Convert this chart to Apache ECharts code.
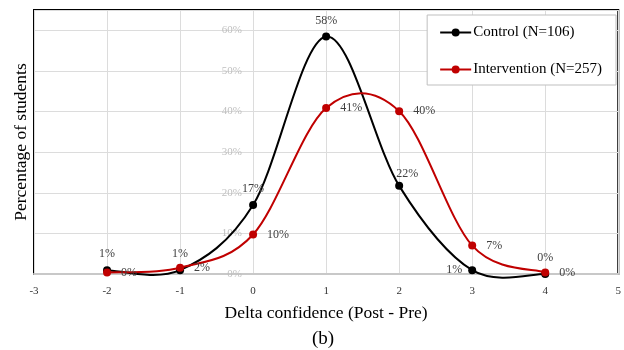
<!DOCTYPE html>
<html>
<head>
<meta charset="utf-8">
<script src="https://cdn.jsdelivr.net/npm/echarts@6/dist/echarts.min.js"></script>
<style>
  html, body {margin: 0; padding: 0; background: #fff;}
  #main {width: 624px; height: 350px;}
</style>
</head>
<body>
<div id="main"></div>
<script>
  // delta confidence (post - pre) and share of students, in percent
  const deltas = [-2, -1, 0, 1, 2, 3, 4];
  const control = [0.94, 0.94, 16.98, 58.49, 21.70, 0.94, 0];
  const intervention = [0.39, 1.56, 9.73, 40.86, 40.08, 7.0, 0.39];
  const controlName = 'Control (N=106)';
  const interventionName = 'Intervention (N=257)';

  // where each point's label sits
  const controlLabelPos = ['top', 'top', 'top', 'top', 'top', 'left', 'top'];
  const interventionLabelPos = deltas.map(() => 'right');

  const FONT = '"Liberation Serif", "DejaVu Serif", serif';
  const BLACK = '#000';
  const RED = '#c00000';

  const toData = (vals, pos) => vals.map((v, i) => {
    const item = {value: [deltas[i], v], label: {position: pos[i]}};
    if (i === 4 && pos[i] === 'top') item.label.offset = [8, 4];
    return item;
  });

  const fmt = p => Math.round(p.value[1]) + '%';

  // excel-like smoothed curve: one cubic bezier per segment (catmull-rom tangents)
  const curveSeries = (vals, color, z) => ({
    type: 'custom',
    z: z,
    silent: true,
    clip: false,
    data: vals.map((v, i) => [deltas[i], v]),
    renderItem(params, api) {
      const i = params.dataIndex;
      const n = vals.length;
      if (i >= n - 1) return null;
      const pt = j => {
        const k = Math.max(0, Math.min(n - 1, j));
        return api.coord([deltas[k], vals[k]]);
      };
      const p0 = pt(i - 1), p1 = pt(i), p2 = pt(i + 1), p3 = pt(i + 2);
      return {
        type: 'bezierCurve',
        shape: {
          x1: p1[0], y1: p1[1],
          cpx1: p1[0] + (p2[0] - p0[0]) / 6, cpy1: p1[1] + (p2[1] - p0[1]) / 6,
          cpx2: p2[0] - (p3[0] - p1[0]) / 6, cpy2: p2[1] - (p3[1] - p1[1]) / 6,
          x2: p2[0], y2: p2[1]
        },
        style: {stroke: color, lineWidth: 2, fill: null}
      };
    }
  });

  const myChart = echarts.init(document.getElementById('main'));
  myChart.setOption({
    animation: false,
    textStyle: {fontFamily: FONT},
    title: {
      text: '(b)',
      left: 307,
      top: 325,
      textStyle: {fontFamily: FONT, fontSize: 19, fontWeight: 'normal', color: '#000'}
    },
    legend: {
      orient: 'vertical',
      right: 8,
      top: 15,
      padding: [10, 14, 8, 12],
      itemGap: 22,
      itemWidth: 31,
      itemHeight: 10,
      backgroundColor: '#fff',
      borderColor: '#bfbfbf',
      borderWidth: 1,
      textStyle: {fontFamily: FONT, fontSize: 15, color: '#000', padding: [0, 0, 0, -3]},
      data: [
        {name: controlName, lineStyle: {color: BLACK, width: 2, opacity: 1}},
        {name: interventionName, lineStyle: {color: RED, width: 2, opacity: 1}}
      ]
    },
    grid: {
      left: 34, right: 4, top: 10, bottom: 76,
      show: true,
      borderColor: '#000',
      borderWidth: 2,
      backgroundColor: '#fff'
    },
    xAxis: {
      type: 'value',
      min: -3, max: 5, interval: 1,
      name: 'Delta confidence (Post - Pre)',
      nameLocation: 'middle',
      nameGap: 30,
      nameTextStyle: {fontFamily: FONT, fontSize: 17.5, color: '#000'},
      axisLine: {onZero: false, lineStyle: {color: '#c8c8c8', width: 2}},
      axisTick: {show: false},
      axisLabel: {fontFamily: FONT, fontSize: 11, color: '#333', margin: 12},
      splitLine: {lineStyle: {color: '#dcdcdc', width: 1}}
    },
    yAxis: [
      {
        // sits on the x = 0 line, labels just to its left
        type: 'value',
        min: 0, max: 65, interval: 10,
        offset: -219,
        axisLine: {show: false, onZero: false},
        axisTick: {show: false},
        axisLabel: {
          fontFamily: FONT, fontSize: 11, color: '#bfbfbf', margin: 11,
          showMaxLabel: false,
          formatter: v => v + '%'
        },
        splitLine: {lineStyle: {color: '#dcdcdc', width: 1}}
      },
      {
        type: 'value',
        position: 'left',
        min: 0, max: 65,
        name: 'Percentage of students',
        nameLocation: 'middle',
        nameGap: 4,
        nameTextStyle: {fontFamily: FONT, fontSize: 17.5, color: '#000'},
        axisLine: {show: false, onZero: false},
        axisTick: {show: false},
        axisLabel: {show: false},
        splitLine: {show: false}
      }
    ],
    series: [
      curveSeries(control, BLACK, 3),
      {
        name: controlName,
        type: 'line',
        z: 4,
        clip: false,
        symbol: 'circle',
        symbolSize: 8,
        color: BLACK,
        lineStyle: {width: 2, color: BLACK, opacity: 0},
        label: {show: true, formatter: fmt, fontFamily: FONT, fontSize: 12, color: '#404040', distance: 6},
        data: toData(control, controlLabelPos)
      },
      curveSeries(intervention, RED, 5),
      {
        name: interventionName,
        type: 'line',
        z: 6,
        clip: false,
        symbol: 'circle',
        symbolSize: 8,
        color: RED,
        lineStyle: {width: 2, color: RED, opacity: 0},
        label: {show: true, formatter: fmt, fontFamily: FONT, fontSize: 12, color: '#404040', distance: 10},
        data: toData(intervention, interventionLabelPos)
      }
    ]
  });
</script>
</body>
</html>
